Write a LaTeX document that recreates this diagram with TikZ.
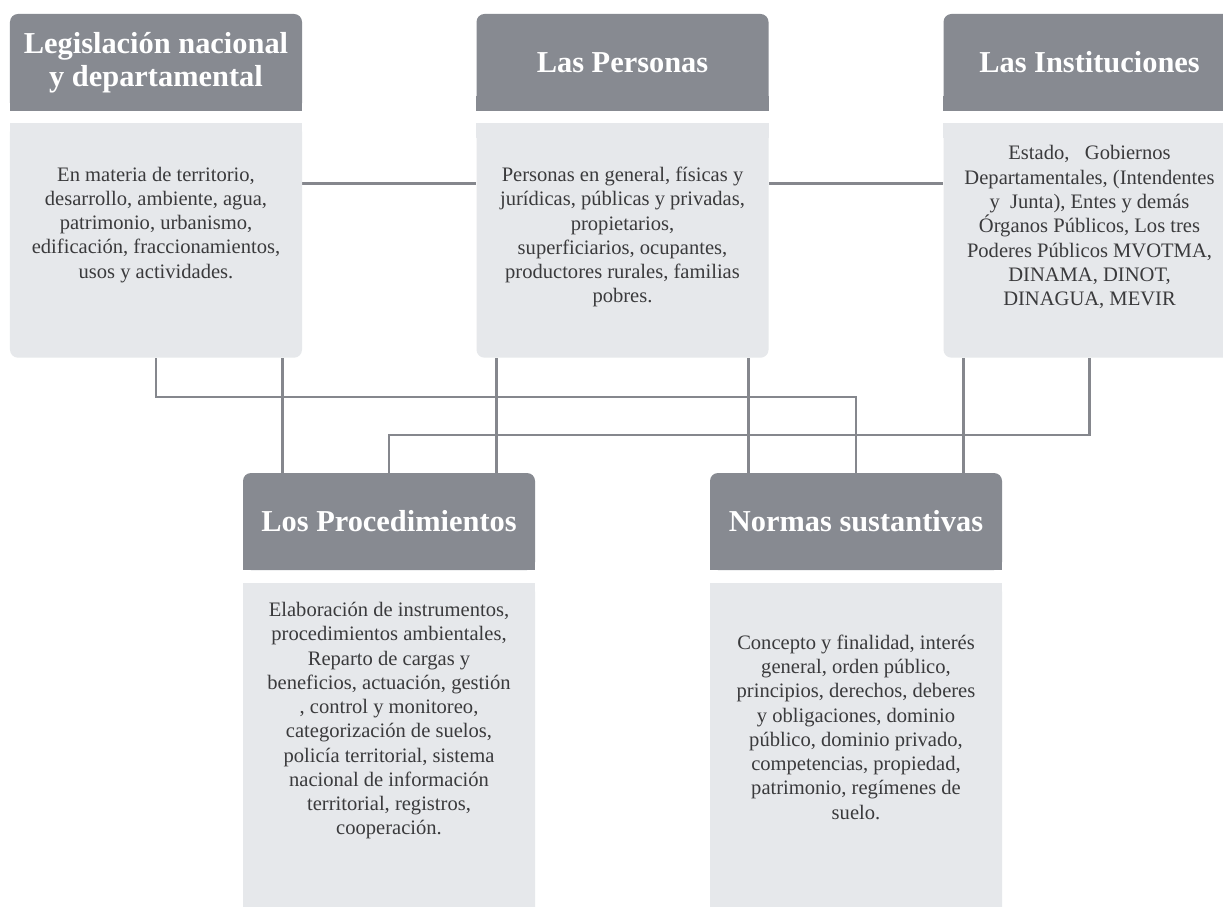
\documentclass[tikz,border=0pt]{standalone}
\usepackage{fontspec}
\setmainfont{Liberation Serif}
\usetikzlibrary{positioning,backgrounds}

\definecolor{hdrgray}{HTML}{878A91}
\definecolor{bodygray}{HTML}{E6E8EB}
\definecolor{linkgray}{HTML}{85878D}
\definecolor{txtgray}{HTML}{3A3A3C}

\tikzset{
  hdr/.style={fill=hdrgray, rounded corners=0.16cm, minimum width=5.84cm, minimum height=1.94cm,
    inner sep=0pt, text=white, align=center, font=\fontsize{17.3}{18.7}\selectfont\bfseries},
  bodybox/.style={fill=bodygray, rounded corners=0.16cm, minimum width=5.84cm, inner sep=0pt},
  bodytxt/.style={text=txtgray, align=center, font=\fontsize{11.7}{13.8}\selectfont},
  link/.style={draw=linkgray, line width=1.6pt},
}

\begin{document}
\begin{tikzpicture}
  \useasboundingbox (0,0) rectangle (24.46,-18.14);
  \clip (0,0) rectangle (24.46,-18.14);
  % Top row headers
  \node[hdr] (legH) at (3.12,-1.25) {Legislación nacional\\y departamental};
  \node[hdr] (perH) at (12.45,-1.25) {Las Personas};
  \node[hdr] (insH) at (21.79,-1.25) {Las Instituciones};
  % Top row bodies
  \foreach \n in {leg,per,ins}
    \node[bodybox, minimum height=4.68cm, below=0.24cm of \n H] (\n B) {};
  \node[bodytxt] (legT) at ([yshift=0.32cm]legB.center) {En materia de territorio,\\desarrollo, ambiente, agua,\\patrimonio, urbanismo,\\edificación, fraccionamientos,\\usos y actividades.};
  \node[bodytxt] (perT) at ([yshift=0.07cm]perB.center) {Personas en general, físicas y\\jurídicas, públicas y privadas,\\propietarios,\\superficiarios, ocupantes,\\productores rurales, familias\\pobres.};
  \node[bodytxt] (insT) at ([yshift=0.27cm]insB.center) {Estado,\ \ \ Gobiernos\\Departamentales, (Intendentes\\y\ \ Junta), Entes y demás\\Órganos Públicos, Los tres\\Poderes Públicos MVOTMA,\\DINAMA, DINOT,\\DINAGUA, MEVIR};
  % Bottom row headers and bodies
  \node[hdr] (proH) at (7.78,-10.43) {Los Procedimientos};
  \node[hdr] (norH) at (17.12,-10.43) {Normas sustantivas};
  \foreach \n in {pro,nor}
    \node[bodybox, minimum height=6.74cm, below=0.26cm of \n H] (\n B) {};
  \node[bodytxt] (proT) at ([yshift=0.63cm]proB.center) {Elaboración de instrumentos,\\procedimientos ambientales,\\Reparto de cargas y\\beneficios, actuación, gestión\\, control y monitoreo,\\categorización de suelos,\\policía territorial, sistema\\nacional de información\\territorial, registros,\\cooperación.};
  \node[bodytxt] (norT) at ([yshift=0.5cm]norB.center) {Concepto y finalidad, interés\\general, orden público,\\principios, derechos, deberes\\y obligaciones, dominio\\público, dominio privado,\\competencias, propiedad,\\patrimonio, regímenes de\\suelo.};

  \begin{scope}[on background layer]
    \fill[white] (0,0) rectangle (24.46,-18.14);
    % square off the inner corners
    \foreach \n in {leg,per,ins,pro,nor} {
      \fill[hdrgray] ([yshift=0.3cm]\n H.south west) rectangle (\n H.south east);
      \fill[bodygray] (\n B.north west) rectangle ([yshift=-0.3cm]\n B.north east);
    }
    % links between the top boxes
    \draw[link] ([yshift=-1.2cm]legB.north east) -- ([yshift=-1.2cm]perB.north west);
    \draw[link] ([yshift=-1.2cm]perB.north east) -- ([yshift=-1.2cm]insB.north west);
    % links down to the bottom boxes
    \draw[link] (legB.south) -- ++(0,-0.78) -| (norH.north);
    \draw[link] (insB.south) -- ++(0,-1.54) -| (proH.north);
    \foreach \a/\b/\s in {legB.south east/proH/-0.4, perB.south west/proH/0.4,
                          perB.south east/norH/-0.4, insB.south west/norH/0.4}
      \draw[link] ([xshift=\s cm]\a) -- ([xshift=\s cm]\a |- \b.north);
  \end{scope}
\end{tikzpicture}
\end{document}
